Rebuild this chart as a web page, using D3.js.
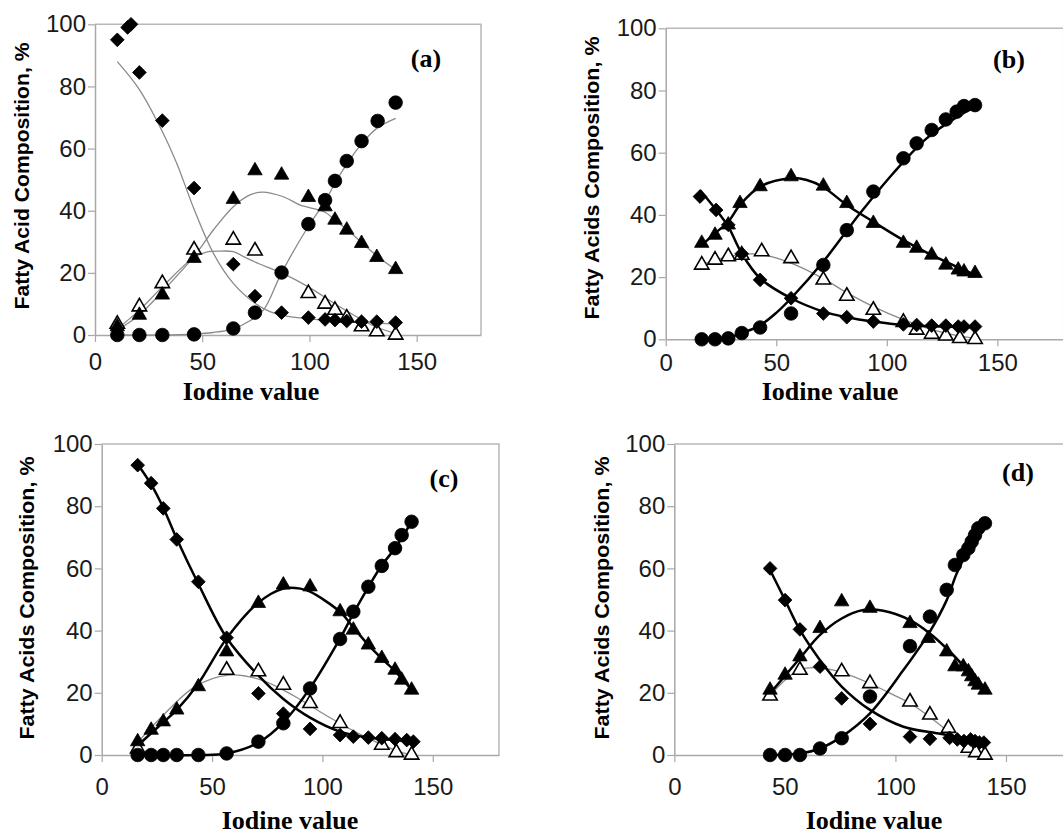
<!DOCTYPE html>
<html>
<head>
<meta charset="utf-8">
<script src="https://cdn.jsdelivr.net/npm/d3@7"></script>
<style>
  body { margin: 0; background: #fff; }
  svg { display: block; }
  .tick text { font-family: "Liberation Sans", Arial, sans-serif; font-size: 24px; fill: #1a1a1a; }
</style>
</head>
<body>
<div id="chart"></div>
<script>
// shared ticks
var xTicks = [0, 50, 100, 150];
var yTicks = [0, 20, 40, 60, 80, 100];

// ---- panel (a) : points [iodine value, %]
var aDiamond = [[10.4,95],[15.2,99],[16.8,100],[20.7,84.5],[31.4,69],[46.2,47.3],[64.5,22.8],[74.6,12.5],[87,7.2],[99.5,5.6],[107.3,5],[111.9,4.8],[117.4,4.5],[124.3,4.3],[131.4,4.3],[140.2,4]];
var aCircle = [[10.4,0],[20.7,0],[31.4,0],[46.2,0.2],[64.5,2.1],[74.6,7.2],[87,20.1],[99.5,35.7],[107.3,43.4],[111.9,49.6],[117.4,56],[124.3,62.4],[131.8,68.9],[140.2,74.8]];
var aTri = [[10.4,2.7],[20.7,6.4],[31.4,12.9],[46.2,24.7],[64.5,43.7],[74.6,52.9],[87,51.5],[99.5,44.3],[107.3,41.3],[111.9,37],[117.4,33.8],[124.3,29.5],[131.4,25],[140.2,21.1]];
var aOpenTri = [[10.4,3.5],[20.7,9.1],[31.4,16.6],[46.2,27.4],[64.5,30.6],[74.6,27.1],[99.5,13.4],[107.3,10],[111.9,8],[117.4,5.5],[124.3,2.7],[131.4,1.1],[140.2,0]];
// fitted curves (a)
var aDiamondFit = [[10.4,88],[20.7,79],[31.4,65.5],[38.1,55.3],[46.2,40.5],[55.2,26.3],[64.5,16.6],[74.6,10.2],[81.6,7.5],[90,6],[100,5.2],[120,4.2],[140.2,3.5]];
var aTriFit = [[10.4,1.5],[20.7,6.5],[31.4,14],[46.2,25.3],[55.2,33.8],[64.5,41.3],[72,45],[78,46],[87.8,44.5],[95.6,41.8],[100,41],[107.3,39.5],[111.9,37],[117.4,34],[124.3,29.8],[131.4,25.5],[140.2,21]];
var aOpenFit = [[10.4,2],[20.7,8],[31.4,15.5],[46.2,25],[52,26.7],[58,27],[64.5,26.8],[70,25],[74.6,23.5],[81.6,21.5],[87,20],[99.5,15.5],[112,10],[124.3,5],[131.4,2.5],[140.2,0.5]];
var aCircleFit = [[10.4,0],[30,0],[46.2,0.3],[55,0.8],[64.5,2],[72,4.5],[78.5,8],[87,20],[99.5,35],[107.3,43],[112,49],[117.4,55],[124.3,61.5],[131.4,66.5],[140.2,69.7]];

// ---- panel (b)
var bDiamond = [[15.5,45.9],[22.8,41.6],[28.3,36.8],[34.4,27.5],[42.7,19.1],[56.7,13.2],[71.3,8.3],[81.9,7.1],[93.9,5.7],[107.5,4.8],[113.5,4.6],[120.3,4.4],[126.7,4.4],[132.3,4.1],[134.9,4.1],[139.9,4.1]];
var bCircle = [[16.3,0],[22.3,0],[28.3,0.3],[34.4,2],[42.7,3.8],[56.7,8.3],[71.3,23.9],[81.9,35.1],[93.9,47.5],[107.5,58.2],[113.5,63],[120.3,67.3],[126.7,70.7],[131.6,73.2],[134.9,75],[139.9,75.3]];
var bTri = [[16.3,30.9],[22.3,33.5],[28.3,36.8],[33.6,43.7],[42.7,49.1],[56.7,52.3],[71.3,49.3],[81.9,43.7],[93.9,37.3],[107.5,30.9],[113.5,29.3],[120.3,27.1],[126.7,23.9],[132.3,22.3],[134.9,21.7],[139.9,21.2]];
var bOpenTri = [[16.3,23.9],[22.3,25.5],[28.3,26.6],[34.4,27.1],[43.4,28.2],[56.7,26],[71.3,19.1],[81.9,13.9],[93.9,9.4],[107.5,5.5],[113.5,3],[120.3,1.7],[126.7,1.1],[133,0.3],[139.9,0]];
var bDiamondFit = [[15.5,48],[22.8,41.6],[28.3,36.2],[34.4,27.6],[42.7,19.6],[56.7,13.2],[71.3,8.9],[81.9,7.1],[93.9,5.7],[107.5,4.6],[139.9,3.9]];
var bTriFit = [[16.3,30.3],[22.3,34.1],[28.3,37.8],[33.6,43.2],[42.7,49.1],[56.7,51.8],[63.8,51.2],[71.3,48.9],[81.9,43.2],[93.9,37.8],[107.5,31.9],[120.3,27.1],[139.9,20.7]];
var bCircleFit = [[16.3,0],[28.3,0.5],[34.4,2],[42.7,4.5],[50,8.5],[56.7,13.2],[71.3,25],[87.9,40.5],[102.9,53.4],[118,64.6],[133.1,72.1],[139.5,74.5]];
var bOpenFit = [[16.3,24],[25,26],[34.4,27.3],[43,27.3],[56.7,24.5],[71.3,19.5],[81.9,15],[93.9,10.5],[107.5,6.3],[120,3.2],[133,1],[140,0.3]];

// ---- panel (c)
var cDiamond = [[16.3,93.2],[22.4,87.4],[27.9,79.3],[34,69.3],[43.8,55.7],[56.6,37.7],[71,19.8],[82.3,13.3],[94.4,8.4],[108,6.4],[114,5.9],[120.8,5.6],[126.9,5.4],[132.9,5.1],[138.2,4.8],[141.2,4.3]];
var cCircle = [[16.3,0],[22.4,0],[27.9,0],[34,0],[43.8,0],[56.6,0.5],[71,4.3],[82.3,10.2],[94.4,21.4],[108,37.3],[114,46.1],[120.8,54.1],[126.9,60.8],[132.9,66.5],[135.9,70.7],[140.4,75]];
var cTri = [[16.3,4.3],[22.4,8],[27.9,10.7],[34,14.5],[43.8,22],[56.6,33.2],[71,48.8],[82.3,54.7],[94.4,54.1],[108,46.1],[114,40.2],[120.8,35.4],[126.9,31.1],[132.9,27.3],[135.9,24.1],[140.4,20.9]];
var cOpenTri = [[16.3,2],[56.6,27.3],[71,26.8],[82.3,22.5],[94.4,16.6],[108,10.2],[126.9,3.2],[133.5,0.8],[140.4,0]];
var cDiamondFit = [[16.3,93.5],[22.4,87],[27.9,79.5],[34,69.5],[43.8,55],[56.6,37.7],[71,25.5],[82.3,18],[94.4,12],[108,7.5],[120.8,5.6],[141.2,4.3]];
var cTriFit = [[16.3,3],[22.4,7],[27.9,10.5],[34,14.5],[43.8,23],[56.6,37.5],[71,49],[82.3,53.5],[90,53.5],[94.4,52.5],[108,46],[114,41],[120.8,35.4],[126.9,31],[132.9,27],[140.4,21]];
var cCircleFit = [[16.3,0],[43.8,0],[56.6,0.5],[71,4],[82.3,10.5],[94.4,21.5],[108,37.5],[114,45.5],[120.8,54],[126.9,61],[132.9,66.5],[140.4,75]];
var cOpenFit = [[16.6,4.3],[27.2,12.3],[42.3,22],[57.4,25.7],[72.5,24.1],[87.6,18.8],[102.7,12.3],[117.8,6.4],[132.9,1.6],[140.4,0]];

// ---- panel (d)
var dDiamond = [[43.3,60],[50.1,49.8],[56.8,40.4],[65.9,28.4],[75.7,18.2],[88.5,10],[106.6,5.9],[115.6,5.2],[124.5,5.5],[128,5],[131,4.5],[134,5],[136,4.5],[138,4],[140,4]];
var dCircle = [[43.3,0],[50.1,0],[56.8,0],[65.9,2.1],[75.7,5.4],[88.5,18.8],[106.6,35],[115.6,44.5],[123.2,53.1],[126.9,61.1],[130.7,64.3],[133,66.5],[134.5,68.6],[136,70.7],[137.5,72.9],[140.5,74.5]];
var dTri = [[43.3,20.9],[50.1,25.7],[56.8,31.6],[65.9,40.7],[75.7,49.3],[88.5,47.2],[106.6,42.3],[114.9,37.5],[123.2,33.2],[126.9,28.4],[130.7,28.4],[133,26.8],[134.5,25.2],[136,23.6],[137.5,22.5],[140.5,20.9]];
var dOpenTri = [[43.3,19],[56.8,27.3],[75.7,26.8],[88.5,23],[106.6,17.1],[115.6,12.9],[124,8.6],[133,2.2],[136.4,0.8],[140.5,0]];
var dDiamondFit = [[43.3,59.5],[50.1,49.8],[56.8,40.2],[65.9,30.5],[75.7,22],[88.5,14.5],[103.6,9.1],[118.6,7],[127.7,5.9],[140.5,4.8]];
var dTriFit = [[43.3,19.8],[56.8,31.1],[65.9,38.6],[75.7,43.9],[85.5,46.6],[94.5,46.4],[106.6,43.4],[115.6,39.1],[124.7,33.2],[133.8,26.3],[140.5,21.4]];
var dCircleFit = [[43.3,0],[56.8,0.5],[65.9,2.1],[75.7,5.9],[88.5,13.4],[103.6,27.3],[115.6,39.7],[123.2,49.8],[127.7,58.4],[133.8,67],[139.8,73.4]];
var dOpenFit = [[43.3,19],[50,24],[57,27.5],[66,28],[76,26.5],[88.5,23],[100,19],[107,16.5],[116,12],[124,7.5],[133,2.5],[140,0]];

var width = 1063, height = 834;

var svg = d3.select("#chart").append("svg")
    .attr("width", width)
    .attr("height", height);

var axisCol = "#a8a8a8";

function drawPanel(p) {
    var x = d3.scaleLinear().domain([0, 180]).range([p.left, p.right]);
    var y = d3.scaleLinear().domain([0, 100]).range([p.bottom, p.top]);
    var g = svg.append("g");

    // plot area border (top + right)
    g.append("path")
        .attr("d", "M" + x(0) + "," + y(100) + "H" + x(180) + "V" + y(0))
        .attr("fill", "none").attr("stroke", "#b8b8b8").attr("stroke-width", 1.5);

    var ya = g.append("g")
        .attr("transform", "translate(" + x(0) + ",0)")
        .call(d3.axisLeft(y).tickValues(yTicks).tickSizeInner(7).tickSizeOuter(0).tickPadding(2));
    var xa = g.append("g")
        .attr("transform", "translate(0," + y(0) + ")")
        .call(d3.axisBottom(x).tickValues(xTicks).tickSizeInner(7).tickSizeOuter(0).tickPadding(p.xPad));
    [ya, xa].forEach(function (a) {
        a.select(".domain").attr("stroke", axisCol).attr("stroke-width", 1.5);
        a.selectAll(".tick line").attr("stroke", axisCol).attr("stroke-width", 1.2);
    });

    var line = d3.line()
        .x(function (d) { return x(d[0]); })
        .y(function (d) { return y(d[1]); })
        .curve(d3.curveCatmullRom.alpha(0.5));

    var fits = [p.openFit, p.diamondFit, p.triFit, p.circleFit];
    fits.forEach(function (f, i) {
        var grey = p.allGrey || i === 0;
        g.append("path")
            .datum(f)
            .attr("d", line)
            .attr("fill", "none")
            .attr("stroke", grey ? "#8a8a8a" : "#000")
            .attr("stroke-width", grey ? 1.3 : 2.5);
    });

    var diamond = d3.symbol().type(d3.symbolSquare).size(94);
    var tri = d3.symbol().type(d3.symbolTriangle).size(90);
    var circ = d3.symbol().type(d3.symbolCircle).size(145);

    function marks(data, sym, fill, rot) {
        g.append("g").selectAll("path")
            .data(data)
            .enter()
            .append("path")
            .attr("d", sym)
            .attr("transform", function (d) {
                return "translate(" + x(d[0]) + "," + y(d[1]) + ")" + (rot ? " rotate(45)" : "");
            })
            .attr("fill", fill)
            .attr("stroke", "#000")
            .attr("stroke-width", fill === "#fff" ? 1.6 : 0.8);
    }
    marks(p.openTri, tri, "#fff", false);
    marks(p.diamond, diamond, "#000", true);
    marks(p.tri, tri, "#000", false);
    marks(p.circle, circ, "#000", false);

    // y title
    g.append("text")
        .attr("transform", "translate(" + p.yTitleX + "," + p.yTitleY + ") rotate(-90)")
        .attr("text-anchor", "middle")
        .attr("textLength", p.yTitleLen)
        .attr("lengthAdjust", "spacingAndGlyphs")
        .style("font-family", "'Liberation Sans', Arial, sans-serif")
        .style("font-weight", "bold")
        .style("font-size", "21px")
        .text(p.yTitle);

    // x title
    g.append("text")
        .attr("x", p.xTitleX)
        .attr("y", p.xTitleY)
        .attr("text-anchor", "middle")
        .style("font-family", "'Liberation Serif', 'Times New Roman', serif")
        .style("font-weight", "bold")
        .style("font-size", "26px")
        .text("Iodine value");

    // panel label
    g.append("text")
        .attr("x", p.labX)
        .attr("y", p.labY)
        .attr("text-anchor", "middle")
        .style("font-family", "'Liberation Serif', 'Times New Roman', serif")
        .style("font-weight", "bold")
        .style("font-size", "26px")
        .text(p.label);
}

drawPanel({
    left: 95, right: 481, top: 24.3, bottom: 335, xPad: 11,
    diamond: aDiamond, circle: aCircle, tri: aTri, openTri: aOpenTri,
    diamondFit: aDiamondFit, circleFit: aCircleFit, triFit: aTriFit, openFit: aOpenFit,
    allGrey: true,
    yTitle: "Fatty Acid Composition, %", yTitleX: 29, yTitleY: 176, yTitleLen: 267,
    xTitleX: 251, xTitleY: 400, label: "(a)", labX: 426, labY: 67
});
drawPanel({
    left: 665.7, right: 1063.7, top: 28.3, bottom: 339.3, xPad: 8,
    diamond: bDiamond, circle: bCircle, tri: bTri, openTri: bOpenTri,
    diamondFit: bDiamondFit, circleFit: bCircleFit, triFit: bTriFit, openFit: bOpenFit,
    yTitle: "Fatty Acids Composition, %", yTitleX: 599, yTitleY: 178, yTitleLen: 283,
    xTitleX: 830, xTitleY: 400, label: "(b)", labX: 1009, labY: 68
});
drawPanel({
    left: 101.7, right: 499, top: 444, bottom: 755, xPad: 16,
    diamond: cDiamond, circle: cCircle, tri: cTri, openTri: cOpenTri,
    diamondFit: cDiamondFit, circleFit: cCircleFit, triFit: cTriFit, openFit: cOpenFit,
    yTitle: "Fatty Acids Composition, %", yTitleX: 34, yTitleY: 598, yTitleLen: 283,
    xTitleX: 290, xTitleY: 829, label: "(c)", labX: 444, labY: 487
});
drawPanel({
    left: 674.3, right: 1072.3, top: 444, bottom: 755, xPad: 16,
    diamond: dDiamond, circle: dCircle, tri: dTri, openTri: dOpenTri,
    diamondFit: dDiamondFit, circleFit: dCircleFit, triFit: dTriFit, openFit: dOpenFit,
    yTitle: "Fatty Acids Composition, %", yTitleX: 609, yTitleY: 598, yTitleLen: 283,
    xTitleX: 874, xTitleY: 829, label: "(d)", labX: 1018, labY: 481
});
</script>
</body>
</html>
